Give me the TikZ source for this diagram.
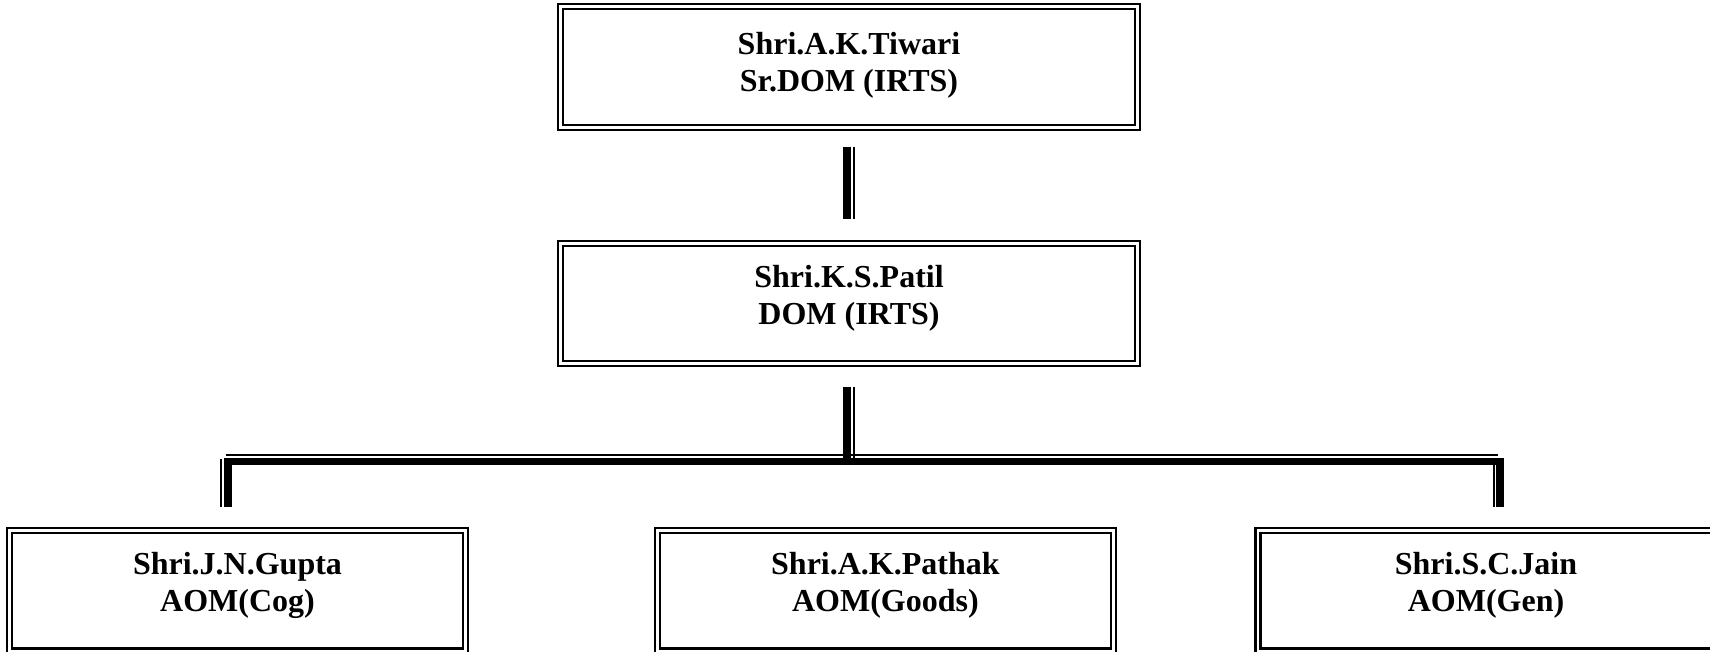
\documentclass[tikz,border=0pt]{standalone}
\usepackage{fontspec}
\setmainfont{Liberation Serif}
\usetikzlibrary{calc}
\begin{document}
\begin{tikzpicture}[x=1pt,y=-1pt,
  box/.style={rectangle, draw=black, double=white, line width=2.2pt, double distance=2.8pt,
              inner sep=0pt, outer sep=0pt, minimum height=120.5pt},
  uppbox/.style={box, minimum width=576.6pt},
  lowbox/.style={box, minimum width=456pt},
  lbl/.style={anchor=base, inner sep=0pt, outer sep=0pt, font=\fontsize{32}{36.8}\selectfont\bfseries},
  thickln/.style={draw=black, line width=7.7pt, line join=miter, line cap=butt},
  thinln/.style={draw=black, line width=2pt, line cap=butt}]
\useasboundingbox[fill=white] (0,0) rectangle (1710,652);
\clip (0,0) rectangle (1710,652);

% boxes
\node[uppbox] (tiwari) at (849,67) {};
\node[uppbox] (patil) at (849,303.4) {};
\node[lowbox] (gupta) at (237.5,590.7) {};
\node[lowbox] (pathak) at (885.4,590.7) {};
\node[lowbox] (jain) at (1486,590.7) {};

% texts
\node[lbl] (tiwariname) at ($(tiwari.north)+(0,47.5)$) {Shri.A.K.Tiwari};
\node[lbl] (tiwaripost) at ($(tiwariname.base)+(0,36.8)$) {Sr.DOM (IRTS)};
\node[lbl] (patilname) at ($(patil.north)+(0,44.5)$) {Shri.K.S.Patil};
\node[lbl] (patilpost) at ($(patilname.base)+(0,36.8)$) {DOM (IRTS)};
\node[lbl] (guptaname) at ($(gupta.north)+(0,44.5)$) {Shri.J.N.Gupta};
\node[lbl] (guptapost) at ($(guptaname.base)+(0,36.8)$) {AOM(Cog)};
\node[lbl] (pathakname) at ($(pathak.north)+(0,44.5)$) {Shri.A.K.Pathak};
\node[lbl] (pathakpost) at ($(pathakname.base)+(0,36.8)$) {AOM(Goods)};
\node[lbl] (jainname) at ($(jain.north)+(0,44.5)$) {Shri.S.C.Jain};
\node[lbl] (jainpost) at ($(jainname.base)+(0,36.8)$) {AOM(Gen)};

% connector Tiwari -> Patil
\draw[thickln] ($(tiwari.south)+(-1.7,19.4)$) -- ($(patil.north)+(-1.7,-24.2)$);
\draw[thinln] ($(tiwari.south)+(5.2,19.4)$) -- ($(patil.north)+(5.2,-24.2)$);

% bus
\coordinate (bus) at (849,461.5);
\draw[thickln] ($(patil.south)+(-1.8,23.6)$) -- ($(patil.south |- bus)+(-1.8,0)$);
\draw[thinln] ($(patil.south)+(5.3,23.6)$) -- ($(patil.south |- bus)+(5.3,-2.5)$);
\draw[thickln] ($(gupta.north)+(-9.3,-23.8)$) |- (bus) -| ($(jain.north)+(13.8,-23.8)$);
\draw[thinln] ($(gupta.north |- bus)+(-11.5,-6.3)$) -- ($(jain.north |- bus)+(11.7,-6.3)$);
\draw[thinln] ($(gupta.north)+(-16.5,-71.2)$) -- ($(gupta.north)+(-16.5,-23.8)$);
\draw[thinln] ($(jain.north)+(7.8,-69)$) -- ($(jain.north)+(7.8,-23.8)$);
\end{tikzpicture}
\end{document}
